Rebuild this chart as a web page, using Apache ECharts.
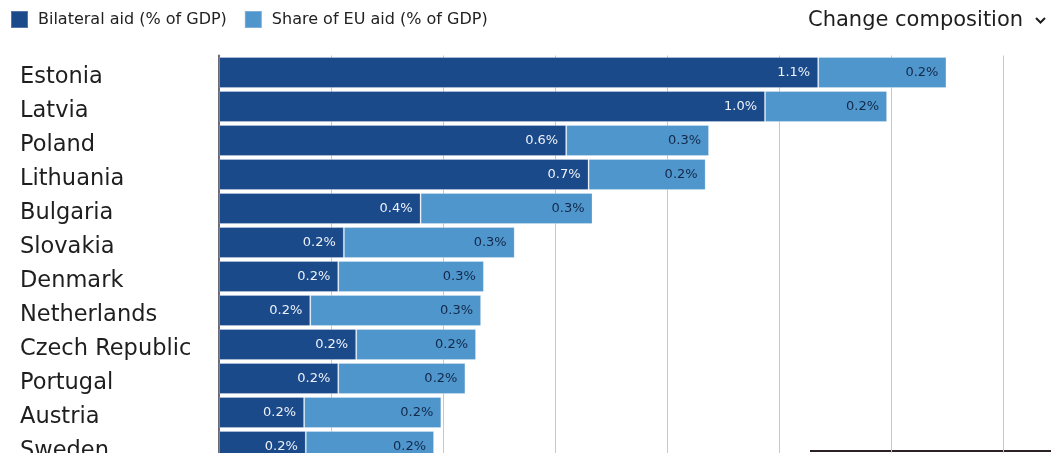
<!DOCTYPE html>
<html>
<head>
<meta charset="utf-8">
<script src="https://cdn.jsdelivr.net/npm/echarts@6/dist/echarts.min.js"></script>
<style>
html,body{margin:0;padding:0;background:#fff;overflow:hidden;width:1051px;height:453px;}
#chart{width:1051px;height:470px;}
</style>
</head>
<body>
<div id="chart"></div>
<script>
const countries = ["Estonia","Latvia","Poland","Lithuania","Bulgaria","Slovakia","Denmark","Netherlands","Czech Republic","Portugal","Austria","Sweden"];
const bilateral = [1.07, 0.975, 0.62, 0.66, 0.36, 0.223, 0.213, 0.163, 0.245, 0.213, 0.152, 0.155];
const euShare = [0.229, 0.218, 0.255, 0.209, 0.307, 0.305, 0.26, 0.305, 0.214, 0.227, 0.245, 0.229];
const seriesNames = ["Bilateral aid (% of GDP)", "Share of EU aid (% of GDP)"];
const xTicks = {min: 0, max: 1.4, interval: 0.2};

const DARK = '#1b4a8b';
const LIGHT = '#4e96cc';
const FONT = '"DejaVu Sans", sans-serif';
const fmt = p => p.value.toFixed(1) + '%';

const chart = echarts.init(document.getElementById('chart'));
chart.setOption({
  animation: false,
  textStyle: {fontFamily: FONT},
  legend: {
    left: 10, top: 10, padding: 0, itemWidth: 17, itemHeight: 17, itemGap: 17, icon: 'rect',
    textStyle: {fontSize: 16, color: '#222', fontFamily: FONT, padding: [0,0,0,5]},
    data: seriesNames
  },
  grid: {left: 219, right: 48, top: 55.5, bottom: 6.5, containLabel: false},
  xAxis: {
    type: 'value', min: xTicks.min, max: xTicks.max, interval: xTicks.interval,
    axisLabel: {show: false}, axisLine: {show: false}, axisTick: {show: false},
    splitLine: {show: true, lineStyle: {color: '#c8c8c8', width: 1}}
  },
  yAxis: {
    type: 'category', data: countries, inverse: true,
    axisLine: {show: true, lineStyle: {color: '#6a6a78', width: 2}},
    axisTick: {show: false},
    axisLabel: {
      align: 'left', margin: 199, fontFamily: FONT,
      formatter: v => '{c|' + v + '}',
      rich: {c: {fontSize: 22.5, color: '#1e1e1e', fontFamily: FONT, padding: [10, 0, 0, 0]}}
    }
  },
  series: [
    {
      name: seriesNames[0], type: 'bar', stack: 'aid', data: bilateral, barWidth: 31,
      itemStyle: {color: DARK, borderColor: 'rgba(255,255,255,0.25)', borderWidth: 1},
      label: {show: true, position: 'insideRight', distance: 8, formatter: fmt, color: '#eef2f8', fontSize: 13, fontFamily: FONT}
    },
    {
      name: seriesNames[1], type: 'bar', stack: 'aid', data: euShare, barWidth: 31,
      itemStyle: {color: LIGHT, borderColor: 'rgba(255,255,255,0.25)', borderWidth: 1},
      label: {show: true, position: 'insideRight', distance: 8, formatter: fmt, color: '#14284a', fontSize: 13, fontFamily: FONT}
    }
  ],
  graphic: [
    {type: 'text', left: 808, top: 10, style: {text: 'Change composition', font: '21px ' + FONT, fill: '#1e1e1e'}},
    {type: 'polyline', shape: {points: [[1036,18],[1040.5,22.5],[1045,18]]}, style: {stroke: '#1e1e1e', lineWidth: 2, fill: null}},
    {type: 'line', shape: {x1: 810, y1: 451, x2: 1051, y2: 451}, style: {stroke: '#2a2226', lineWidth: 2}}
  ]
});
</script>
</body>
</html>
